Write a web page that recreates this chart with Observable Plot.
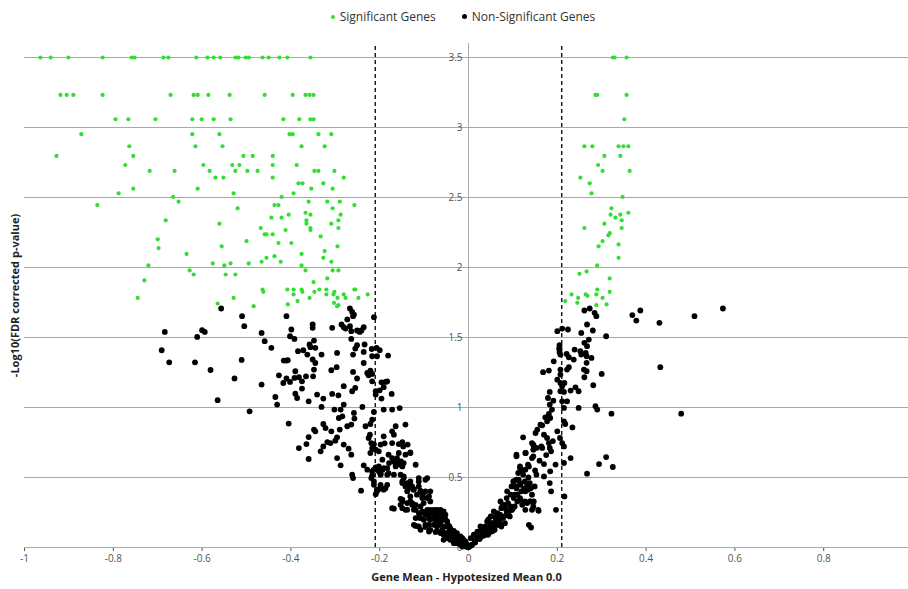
<!DOCTYPE html>
<html><head><meta charset="utf-8">
<script src="https://cdn.jsdelivr.net/npm/d3@7"></script>
<script src="https://cdn.jsdelivr.net/npm/@observablehq/plot@0.6"></script>
<style>
body{margin:0;background:#fff;font-family:"Open Sans",sans-serif;}
#legend{height:31px;display:flex;justify-content:center;align-items:center;gap:26px;font-size:12px;color:#333;padding-left:18px;padding-top:2px;box-sizing:border-box;width:908px;}
#legend span.i{display:inline-flex;align-items:center;gap:5px;}
#legend i{display:inline-block;border-radius:50%;}
</style></head><body>
<div id="legend">
  <span class="i"><i style="width:4px;height:4px;background:#33dd33"></i>Significant Genes</span>
  <span class="i"><i style="width:5px;height:5px;background:#000"></i>Non-Significant Genes</span>
</div>
<div id="chart"></div>
<script>
const xTicks = [-1, -0.8, -0.6, -0.4, -0.2, 0, 0.2, 0.4, 0.6, 0.8];
const yTicks = [0, 0.5, 1, 1.5, 2, 2.5, 3, 3.5];
const thresholds = [-0.21, 0.21];
const xLabel = "Gene Mean - Hypotesized Mean 0.0";
const yLabel = "-Log10(FDR corrected p-value)";

// significant genes [mean difference, -log10 FDR p]
const sigGenes = [
[-0.964,3.5],[-0.941,3.5],[-0.901,3.5],[-0.824,3.5],[-0.759,3.5],[-0.752,3.5],[-0.687,3.5],[-0.676,3.5],[-0.613,3.5],[-0.588,3.5],[-0.574,3.5],[-0.559,3.5],[-0.525,3.5],[-0.518,3.5],[-0.502,3.5],[-0.495,3.5],[-0.464,3.5],[-0.450,3.5],[-0.426,3.5],[-0.408,3.5],[-0.356,3.5],[0.325,3.5],[0.329,3.5],[0.356,3.5],
[-0.919,3.233],[-0.905,3.233],[-0.890,3.233],[-0.824,3.233],[-0.671,3.233],[-0.619,3.233],[-0.610,3.233],[-0.586,3.233],[-0.538,3.233],[-0.459,3.233],[-0.396,3.233],[-0.367,3.233],[-0.358,3.233],[-0.349,3.233],[0.286,3.233],[0.290,3.233],[0.356,3.233],
[-0.795,3.059],[-0.766,3.059],[-0.705,3.059],[-0.622,3.059],[-0.601,3.059],[-0.574,3.059],[-0.536,3.059],[-0.417,3.059],[-0.381,3.059],[-0.356,3.059],[-0.349,3.059],[0.351,3.059],
[-0.872,2.952],[-0.622,2.952],[-0.561,2.952],[-0.403,2.952],[-0.396,2.952],[-0.338,2.952],[-0.309,2.952],
[-0.764,2.866],[-0.615,2.866],[-0.554,2.866],[-0.376,2.866],[-0.324,2.866],[0.261,2.866],[0.279,2.866],[0.338,2.866],[0.349,2.866],[0.360,2.866],
[-0.928,2.797],[-0.755,2.797],[-0.507,2.797],[-0.486,2.797],[-0.441,2.797],[0.306,2.797],[0.342,2.797],
[-0.773,2.732],[-0.597,2.732],[-0.532,2.732],[-0.516,2.732],[-0.441,2.732],[-0.387,2.732],[0.292,2.732],
[-0.718,2.69],[-0.662,2.69],[-0.583,2.69],[-0.525,2.69],[-0.498,2.69],[-0.475,2.69],[-0.347,2.69],[-0.338,2.69],[-0.302,2.69],[0.302,2.69],[0.363,2.69],
[-0.570,2.642],[-0.552,2.642],[-0.441,2.642],[-0.281,2.642],[0.252,2.642],
[-0.383,2.601],[-0.374,2.601],[-0.327,2.601],[0.273,2.601],
[-0.755,2.563],[-0.610,2.563],[-0.354,2.563],[-0.306,2.563],
[-0.788,2.53],[-0.529,2.53],[-0.394,2.53],[0.277,2.53],
[-0.665,2.504],[-0.421,2.504],[0.347,2.504],
[-0.653,2.47],[-0.360,2.47],[-0.318,2.47],[-0.290,2.47],
[-0.836,2.446],[-0.437,2.446],[-0.428,2.446],[-0.257,2.446],
[-0.520,2.423],[-0.306,2.423],[0.322,2.423],
[-0.367,2.391],[0.360,2.391],
[-0.405,2.377],[-0.356,2.377],[-0.288,2.377],[0.320,2.377],[0.342,2.377],
[-0.444,2.356],[-0.421,2.356],[0.331,2.356],
[-0.682,2.337],[-0.365,2.337],[-0.293,2.337],[0.345,2.337],
[-0.561,2.313],[-0.365,2.313],[-0.309,2.313],[0.306,2.313],
[-0.468,2.282],[-0.356,2.282],[-0.293,2.282],[0.261,2.282],[0.345,2.282],
[-0.412,2.268],[-0.356,2.268],
[-0.459,2.237],[-0.455,2.237],[-0.441,2.237],[0.315,2.230],[0.318,2.245],
[-0.333,2.222],[-0.700,2.201],[-0.500,2.189],[0.302,2.189],
[-0.428,2.175],[-0.399,2.175],[0.338,2.165],
[-0.556,2.151],[-0.295,2.151],[0.293,2.151],
[-0.698,2.139],[-0.324,2.117],[-0.635,2.098],[-0.376,2.098],[-0.437,2.081],
[-0.455,2.069],[-0.327,2.069],[0.338,2.069],
[-0.466,2.041],[-0.423,2.041],[-0.309,2.041],
[-0.576,2.029],[-0.536,2.029],[-0.495,2.029],
[-0.721,2.015],[-0.550,2.015],[-0.376,2.015],[0.290,2.015],
[-0.628,1.979],[-0.367,1.979],[-0.306,1.979],[-0.293,1.979],[0.266,1.972],
[-0.619,1.95],[-0.547,1.95],[-0.525,1.95],[0.250,1.955],
[-0.318,1.922],[0.318,1.922],[-0.730,1.908],[-0.349,1.896],
[-0.464,1.843],[-0.408,1.843],[-0.394,1.843],[-0.376,1.843],[-0.336,1.843],[-0.320,1.843],[-0.257,1.843],[-0.255,1.843],[0.290,1.843],
[-0.462,1.826],[-0.374,1.826],[-0.347,1.826],[-0.302,1.826],[0.318,1.826],
[-0.394,1.808],[-0.320,1.808],[-0.304,1.808],[-0.281,1.808],[-0.227,1.808],[0.232,1.808],[0.264,1.808],[0.288,1.808],
[-0.745,1.783],[-0.529,1.783],[-0.358,1.783],[-0.295,1.783],[-0.277,1.783],[-0.248,1.783],[0.302,1.783],[0.247,1.783],
[-0.565,1.743],[-0.484,1.724],[-0.407,1.736],[-0.385,1.760],[-0.293,1.731],[-0.303,1.748],[-0.296,1.724],
[0.218,1.760],[0.245,1.748],[0.268,1.798],[0.288,1.731],[0.311,1.736]
];

// non-significant genes [mean difference, -log10 FDR p]
const nonSigGenes = [
[-0.557,1.707],[-0.510,1.652],[-0.505,1.581],[-0.684,1.540],[-0.600,1.552],[-0.594,1.540],[-0.611,1.504],[-0.691,1.409],[-0.674,1.323],[-0.616,1.323],
[-0.581,1.268],[-0.511,1.340],[-0.527,1.207],[-0.565,1.052],[-0.493,0.973],[-0.466,1.533],[-0.459,1.474],[-0.444,1.426],[-0.410,1.652],[-0.399,1.557],
[-0.402,1.509],[-0.392,1.490],[-0.351,1.593],[-0.351,1.569],[-0.348,1.478],[-0.358,1.450],[-0.356,1.431],[-0.345,1.426],[-0.384,1.402],[-0.372,1.409],
[-0.363,1.378],[-0.331,1.378],[-0.416,1.335],[-0.410,1.335],[-0.407,1.338],[-0.351,1.343],[-0.345,1.318],[-0.348,1.271],[-0.390,1.259],[-0.427,1.230],
[-0.410,1.207],[-0.402,1.183],[-0.392,1.211],[-0.382,1.216],[-0.375,1.187],[-0.366,1.223],[-0.350,1.223],[-0.417,1.175],[-0.375,1.135],[-0.466,1.164],
[-0.435,1.075],[-0.431,1.021],[-0.390,1.099],[-0.386,1.068],[-0.360,1.044],[-0.341,1.092],[-0.327,1.064],[-0.331,1.004],[-0.405,0.885],[-0.327,0.882],
[-0.322,0.853],[-0.348,0.842],[-0.345,0.830],[-0.360,0.789],[-0.365,0.739],[-0.318,0.753],[-0.311,0.746],[-0.327,0.722],[-0.333,0.687],[-0.382,0.710],[-0.360,0.632],
[-0.267,1.707],[-0.262,1.683],[-0.258,1.664],[-0.260,1.652],[-0.213,1.645],[-0.273,1.629],[-0.307,1.569],[-0.286,1.593],[-0.281,1.574],[-0.277,1.564],
[-0.267,1.581],[-0.264,1.545],[-0.251,1.550],[-0.245,1.540],[-0.241,1.550],[-0.236,1.574],[-0.264,1.490],[-0.251,1.445],[-0.255,1.421],[-0.234,1.450],
[-0.218,1.418],[-0.207,1.426],[-0.200,1.409],[-0.296,1.390],[-0.260,1.378],[-0.236,1.397],[-0.217,1.366],[-0.206,1.366],[-0.181,1.371],[-0.236,1.318],
[-0.297,1.288],[-0.309,1.266],[-0.260,1.254],[-0.228,1.247],[-0.221,1.264],[-0.217,1.240],[-0.225,1.230],[-0.251,1.207],[-0.217,1.187],[-0.196,1.180],
[-0.187,1.183],[-0.183,1.187],[-0.281,1.152],[-0.255,1.140],[-0.262,1.116],[-0.209,1.116],[-0.200,1.123],[-0.191,1.145],[-0.307,1.097],[-0.293,1.087],
[-0.209,1.092],[-0.173,1.097],[-0.196,1.064],[-0.281,1.021],[-0.288,0.985],[-0.302,0.985],[-0.239,1.004],[-0.213,0.968],[-0.191,0.985],[-0.172,0.985],
[-0.155,0.996],[-0.257,0.921],[-0.217,0.913],[-0.284,0.937],[-0.292,0.925],
[-0.258,0.961],[-0.264,0.878],[-0.221,0.882],[-0.232,0.866],[-0.309,0.830],[-0.290,0.842],[-0.273,0.866],[-0.142,0.878],[-0.164,0.866],[-0.172,0.830],
[-0.168,0.806],[-0.300,0.763],[-0.296,0.787],[-0.222,0.806],[-0.225,0.782],[-0.191,0.794],[-0.281,0.735],[-0.270,0.706],[-0.264,0.663],[-0.219,0.746],
[-0.213,0.739],[-0.198,0.735],[-0.189,0.744],[-0.172,0.746],[-0.157,0.739],[-0.149,0.753],[-0.147,0.722],[-0.137,0.735],[-0.131,0.675],[-0.217,0.710],
[-0.209,0.699],[-0.221,0.675],[-0.202,0.687],[-0.180,0.663],[-0.172,0.639],[-0.168,0.615],[-0.161,0.639],[-0.157,0.603],[-0.164,0.592],[-0.149,0.579],
[-0.152,0.615],[-0.296,0.639],[-0.288,0.587],[-0.236,0.587],[-0.228,0.556],[-0.217,0.544],[-0.209,0.572],[-0.202,0.544],[-0.194,0.556],[-0.191,0.567],
[-0.180,0.531],[-0.198,0.520],[-0.262,0.520],[-0.260,0.496],[-0.219,0.496],[-0.213,0.472],[-0.217,0.515],[-0.153,0.520],[-0.146,0.496],[-0.149,0.472],
[-0.138,0.460],[-0.131,0.472],[-0.127,0.436],[-0.112,0.496],[-0.093,0.496],[-0.142,0.436],[-0.135,0.424],[-0.124,0.412],[-0.112,0.436],[-0.108,0.401],
[-0.101,0.389],[-0.116,0.377],[-0.104,0.353],[-0.093,0.353],[-0.242,0.406],[-0.206,0.413],[-0.200,0.420],[-0.191,0.413],[-0.187,0.424],[-0.209,0.381],
[-0.153,0.348],[-0.149,0.329],[-0.138,0.317],[-0.127,0.305],[-0.119,0.305],[-0.131,0.329],[-0.168,0.277],[-0.149,0.281],[-0.138,0.270],[-0.123,0.270],
[-0.112,0.246],[-0.104,0.258],[-0.093,0.269],[-0.086,0.269],[-0.078,0.269],[-0.071,0.269],[-0.063,0.269],[-0.056,0.258],[-0.097,0.234],[-0.089,0.222],
[-0.082,0.246],[-0.074,0.234],[-0.067,0.238],[-0.059,0.229],[-0.052,0.234],[-0.119,0.210],[-0.108,0.210],[-0.101,0.198],[-0.086,0.198],[-0.078,0.210],
[-0.071,0.205],[-0.063,0.198],[-0.056,0.198],[-0.048,0.186],[-0.123,0.162],[-0.112,0.150],[-0.097,0.162],[-0.089,0.162],[-0.078,0.162],[-0.071,0.150],
[-0.063,0.162],[-0.052,0.150],[-0.044,0.150],[-0.041,0.138],[-0.086,0.126],[-0.071,0.119],[-0.059,0.114],[-0.052,0.103],[-0.044,0.114],[-0.037,0.114],
[-0.033,0.095],[-0.029,0.086],[-0.026,0.079],[-0.022,0.072],[-0.018,0.062],[-0.014,0.055],[-0.011,0.043],[-0.007,0.031],[-0.003,0.019],[-0.048,0.067],
[-0.041,0.072],[-0.056,0.091],[-0.063,0.103],[-0.041,0.055],[-0.033,0.043],[-0.026,0.031],[-0.018,0.019],[-0.014,0.007],[-0.006,0.008],[-0.002,0.003],
[-0.108,0.246],[-0.089,0.246],[-0.067,0.250],[-0.112,0.214],[-0.089,0.206],[-0.071,0.194],[-0.052,0.202],[-0.119,0.154],[-0.097,0.146],[-0.074,0.174],
[-0.063,0.166],[-0.044,0.154],[-0.108,0.126],[-0.089,0.114],[-0.074,0.110],[-0.059,0.126],[-0.041,0.126],[-0.033,0.118],[-0.026,0.103],[-0.018,0.079],
[-0.014,0.067],[-0.011,0.055],[-0.007,0.043],[-0.044,0.091],[-0.037,0.067],[-0.029,0.067],[-0.056,0.055],[-0.022,0.043],[-0.033,0.031],
[-0.149,0.460],[-0.131,0.448],[-0.112,0.472],[-0.097,0.484],[-0.138,0.401],[-0.123,0.416],[-0.108,0.405],[-0.097,0.401],[-0.086,0.401],[-0.131,0.365],
[-0.104,0.365],[-0.089,0.365],[-0.127,0.317],[-0.101,0.317],[-0.086,0.329],[-0.149,0.341],[-0.153,0.305],[-0.172,0.281],[-0.142,0.269],[-0.119,0.269],[-0.108,0.293],
[-0.157,0.675],[-0.142,0.663],[-0.131,0.679],[-0.194,0.627],[-0.179,0.603],[-0.168,0.619],[-0.153,0.591],[-0.146,0.603],[-0.119,0.591],[-0.202,0.579],
[-0.183,0.567],[-0.164,0.579],[-0.213,0.556],[-0.194,0.556],[-0.198,0.524],[-0.183,0.520],[-0.168,0.520],[-0.146,0.508],[-0.213,0.448],[-0.198,0.448],[-0.183,0.448],[-0.206,0.401],
[0.261,1.693],[0.273,1.707],[0.284,1.676],[0.267,1.593],[0.288,1.652],[0.200,1.545],[0.211,1.564],[0.224,1.557],[0.254,1.533],[0.261,1.462],
[0.271,1.485],[0.205,1.445],[0.204,1.421],[0.205,1.397],[0.207,1.378],[0.221,1.383],[0.226,1.359],[0.239,1.414],[0.252,1.402],[0.254,1.378],
[0.264,1.390],[0.266,1.366],[0.237,1.342],[0.192,1.330],[0.266,1.319],[0.226,1.288],[0.222,1.271],[0.260,1.271],[0.266,1.259],[0.261,1.216],
[0.168,1.252],[0.181,1.264],[0.207,1.271],[0.207,1.235],[0.200,1.199],[0.207,1.175],[0.211,1.152],[0.216,1.175],[0.241,1.144],[0.230,1.121],
[0.248,1.116],[0.183,1.111],[0.207,1.116],[0.215,1.111],[0.179,1.068],[0.191,1.049],[0.211,1.044],[0.222,1.044],[0.183,1.021],[0.188,0.985],
[0.181,0.954],[0.248,0.997],[0.215,0.997],[0.173,0.930],[0.184,0.925],[0.286,1.009],[0.290,0.985],[0.280,1.550],[0.267,1.438],[0.277,1.354],[0.281,1.159],
[0.177,0.901],[0.166,0.873],[0.155,0.842],[0.151,0.818],[0.162,0.877],[0.170,0.806],[0.177,0.782],[0.181,0.746],[0.215,0.901],[0.218,0.882],
[0.234,0.858],[0.200,0.830],[0.123,0.787],[0.143,0.746],[0.147,0.722],[0.146,0.699],[0.206,0.782],[0.211,0.746],[0.215,0.722],[0.166,0.711],
[0.183,0.711],[0.186,0.687],[0.108,0.663],[0.128,0.675],[0.143,0.639],[0.230,0.639],[0.116,0.568],[0.121,0.544],[0.128,0.556],[0.136,0.579],
[0.170,0.596],[0.196,0.592],[0.215,0.604],[0.184,0.544],[0.294,0.596],[0.267,0.527],[0.102,0.472],[0.113,0.484],[0.117,0.448],[0.106,0.436],
[0.132,0.448],[0.140,0.424],[0.128,0.401],[0.143,0.377],[0.170,0.508],[0.183,0.460],[0.186,0.401],[0.216,0.365],[0.087,0.401],[0.095,0.377],
[0.102,0.353],[0.110,0.329],[0.117,0.341],[0.121,0.305],[0.132,0.317],[0.140,0.329],[0.147,0.329],[0.128,0.269],[0.143,0.269],[0.158,0.262],
[0.197,0.269],[0.072,0.329],[0.076,0.293],[0.083,0.281],[0.091,0.258],[0.098,0.269],[0.057,0.258],[0.065,0.246],[0.050,0.222],[0.061,0.210],
[0.068,0.198],[0.076,0.222],[0.042,0.186],[0.053,0.174],[0.065,0.162],[0.136,0.162],[0.141,0.143],[0.027,0.150],[0.035,0.138],[0.046,0.126],
[0.020,0.114],[0.031,0.103],[0.012,0.091],[0.023,0.079],[0.005,0.067],[0.016,0.055],[0.038,0.150],[0.050,0.162],[0.057,0.138],
[0.080,0.305],[0.095,0.293],[0.062,0.230],[0.045,0.200],[0.030,0.125],[0.040,0.110],[0.008,0.020],[0.004,0.010],[0.000,0.002],[0.015,0.035],
[0.025,0.060],[0.035,0.085],[0.045,0.100],[0.055,0.120],[0.070,0.180],[0.085,0.230],[0.100,0.280],[0.110,0.380],[0.125,0.420],[0.135,0.500],
[0.150,0.550],[0.160,0.620],[0.175,0.660],[0.190,0.760],
[0.108,0.651],[0.129,0.675],[0.146,0.734],[0.153,0.711],[0.146,0.651],[0.164,0.722],[0.116,0.579],[0.134,0.591],[0.112,0.532],[0.123,0.520],
[0.101,0.472],[0.108,0.484],[0.116,0.460],[0.127,0.472],[0.138,0.460],[0.097,0.436],[0.108,0.424],[0.119,0.401],[0.134,0.412],[0.149,0.436],
[0.153,0.520],[0.104,0.377],[0.116,0.353],[0.127,0.329],[0.138,0.329],[0.146,0.293],[0.157,0.269],[0.086,0.353],[0.089,0.317],[0.074,0.281],
[0.086,0.258],[0.097,0.269],[0.104,0.293],[0.071,0.234],[0.078,0.210],[0.063,0.198],[0.056,0.174],[0.067,0.162],[0.048,0.150],[0.041,0.126],
[0.052,0.114],[0.033,0.103],[0.029,0.079],[0.022,0.067],[0.014,0.043],[0.007,0.019],[0.044,0.091],[0.059,0.126],[0.074,0.150],[0.082,0.174],[0.093,0.222],
[0.310,1.509],[0.300,1.240],[0.322,0.956],[0.310,0.646],[0.325,0.575],[0.387,1.693],[0.369,1.660],[0.378,1.621],[0.430,1.605],[0.432,1.288],
[0.479,0.956],[0.509,1.652],[0.573,1.707]
];

const chart = Plot.plot({
  width: 908, height: 558,
  marginLeft: 24, marginRight: 0, marginTop: 12, marginBottom: 42,
  x: {domain: [-1, 0.991], ticks: xTicks, tickFormat: d => String(d), tickSize: 4, tickPadding: 3, label: null},
  y: {domain: [0, 3.6], axis: null},
  style: {fontFamily: "'Open Sans', sans-serif", fontSize: "10px", color: "#555", background: "#fff"},
  marks: [
    Plot.ruleY(yTicks, {stroke: "#a8a8a8", strokeWidth: 1}),
    Plot.ruleX([0], {stroke: "#a8a8a8", strokeWidth: 1}),
    Plot.text(yTicks, {x: () => 0, y: d => d, text: d => String(d), dx: -6, textAnchor: "end", fill: "#555", fontSize: 10}),
    Plot.ruleX(thresholds, {y1: 0, y2: 3.6, stroke: "#111", strokeWidth: 1.4, strokeDasharray: "4,3"}),
    Plot.dot(nonSigGenes, {x: d => d[0], y: d => d[1], r: 2.9, fill: "#000", stroke: "none"}),
    Plot.dot(sigGenes, {x: d => d[0], y: d => d[1], r: 2.1, fill: "#33dd33", stroke: "none"}),
    Plot.text([xLabel], {frameAnchor: "bottom", dy: 33, fontWeight: "bold", fontSize: 11, fill: "#222"}),
    Plot.text([yLabel], {frameAnchor: "left", textAnchor: "middle", rotate: -90, dx: -9, fontWeight: "bold", fontSize: 11, fill: "#222"})
  ]
});
document.getElementById("chart").append(chart);
</script>
</body></html>
